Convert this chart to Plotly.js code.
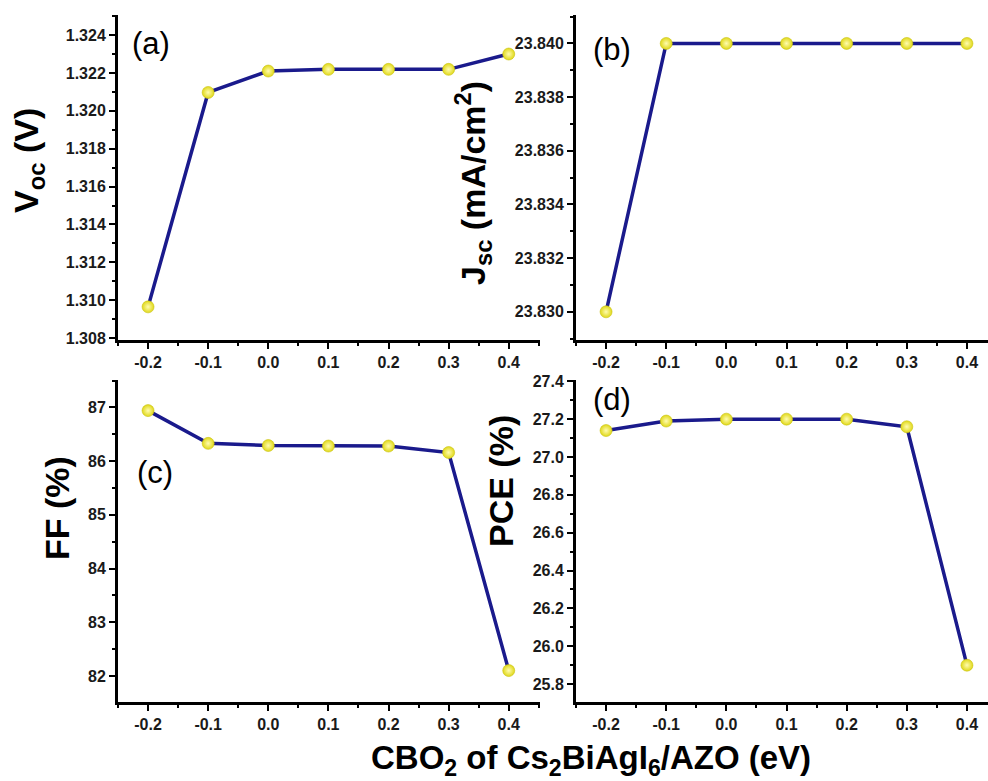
<!DOCTYPE html>
<html>
<head>
<meta charset="utf-8">
<script src="https://cdn.plot.ly/plotly-3.0.1.min.js"></script>
<style>html,body{margin:0;padding:0;background:#fff;}#chart{width:988px;height:781px;}</style>
</head>
<body>
<div id="chart"></div>
<script>
// ---- data ----
const cbo = [-0.2, -0.1, 0.0, 0.1, 0.2, 0.3, 0.4];
const voc = [1.30965, 1.32097, 1.3221, 1.32219, 1.32219, 1.32219, 1.3230];
const jsc = [23.830, 23.840, 23.840, 23.840, 23.840, 23.840, 23.840];
const ff  = [86.94, 86.33, 86.29, 86.28, 86.28, 86.16, 82.10];
const pce = [27.14, 27.19, 27.20, 27.20, 27.20, 27.16, 25.90];
const xTickVals = [-0.2, -0.1, 0.0, 0.1, 0.2, 0.3, 0.4];
const xTickText = ["-0.2", "-0.1", "0.0", "0.1", "0.2", "0.3", "0.4"];
const panelLabels = ["(a)", "(b)", "(c)", "(d)"];
const yTitles = ["V<sub>oc</sub> (V)", "J<sub>sc</sub> (mA/cm<sup>2</sup>)", "FF (%)", "PCE (%)"];
const xTitle = "CBO<sub>2</sub> of Cs<sub>2</sub>BiAgI<sub>6</sub>/AZO (eV)";

// ---- style ----
const W = 988, H = 781;
const FONT = "Arial, 'Liberation Sans', sans-serif";
const lineColor = "#1a1a8c";
const tickFont = {family: FONT, size: 16, color: "#1a1a1a", weight: "bold"};

function mkTrace(y, xa, ya) {
  return {
    x: cbo, y: y, xaxis: xa, yaxis: ya, type: "scatter", mode: "lines+markers",
    line: {color: lineColor, width: 3.5},
    marker: {size: 12, color: "#e0d818", line: {color: "#c9c213", width: 0.6},
             gradient: {type: "radial", color: "#fffcb0"}},
    showlegend: false, hoverinfo: "x+y"
  };
}

function xAxis(domain, range, anchor) {
  return {
    domain: domain, range: range, anchor: anchor,
    tickmode: "array", tickvals: xTickVals, ticktext: xTickText,
    ticks: "outside", ticklen: 6, tickwidth: 2, tickcolor: "#000",
    minor: {tickmode: "linear", tick0: -0.25, dtick: 0.05, ticks: "outside", ticklen: 3, tickwidth: 2, tickcolor: "#000"},
    showline: true, linecolor: "#000", linewidth: 3, mirror: false,
    showgrid: false, zeroline: false, tickfont: tickFont, ticklabelstandoff: 0
  };
}
function yAxis(domain, range, anchor, tick0, dtick, minorDtick, fmt) {
  return {
    domain: domain, range: range, anchor: anchor,
    tickmode: "linear", tick0: tick0, dtick: dtick, tickformat: fmt,
    ticks: "outside", ticklen: 6, tickwidth: 2, tickcolor: "#000",
    minor: {tickmode: "linear", tick0: tick0, dtick: minorDtick, ticks: "outside", ticklen: 3, tickwidth: 2, tickcolor: "#000"},
    showline: true, linecolor: "#000", linewidth: 3, mirror: false,
    showgrid: false, zeroline: false, tickfont: tickFont, ticklabelstandoff: 0
  };
}

const dxL = [118 / W, 540 / W];
const dxR = [576 / W, 1.0];
const dyT = [1 - 340 / H, 1 - 15 / H];
const dyB = [1 - 701.7 / H, 1 - 380 / H];

const data = [
  mkTrace(voc, "x", "y"),
  mkTrace(jsc, "x2", "y2"),
  mkTrace(ff, "x3", "y3"),
  mkTrace(pce, "x4", "y4")
];

function ann(text, px, py, size, bold, angle) {
  return {text: text, x: px / W, y: 1 - py / H, xref: "paper", yref: "paper",
          xanchor: "center", yanchor: "middle", showarrow: false, textangle: angle || 0,
          font: {family: FONT, size: size, color: "#000", weight: bold ? "bold" : "normal"}};
}

const layout = {
  width: W, height: H,
  margin: {l: 0, r: 0, t: 0, b: 0},
  paper_bgcolor: "#fff", plot_bgcolor: "#fff",
  xaxis: xAxis(dxL, [-0.25, 0.452], "y"),
  yaxis: yAxis(dyT, [1.3079, 1.32506], "x", 1.308, 0.002, 0.001, ".3f"),
  xaxis2: xAxis(dxR, [-0.25, 0.435], "y2"),
  yaxis2: yAxis(dyT, [23.82895, 23.84106], "x2", 23.830, 0.002, 0.001, ".3f"),
  xaxis3: xAxis(dxL, [-0.25, 0.452], "y3"),
  yaxis3: yAxis(dyB, [81.52, 87.51], "x3", 82, 1, 0.5, ".0f"),
  xaxis4: xAxis(dxR, [-0.25, 0.435], "y4"),
  yaxis4: yAxis(dyB, [25.707, 27.407], "x4", 25.8, 0.2, 0.1, ".1f"),
  annotations: [
    ann(panelLabels[0], 151, 43, 31, false),
    ann(panelLabels[1], 612, 50, 31, false),
    ann(panelLabels[2], 155, 472, 31, false),
    ann(panelLabels[3], 612, 399, 31, false),
    ann(yTitles[0], 28, 161, 34, true, -90),
    ann(yTitles[1], 473, 183, 34, true, -90),
    ann(yTitles[2], 57, 508, 34, true, -90),
    ann(yTitles[3], 501, 481, 34, true, -90),
    ann(xTitle, 591, 760, 33, true, 0)
  ]
};

Plotly.newPlot("chart", data, layout, {displayModeBar: false, staticPlot: true});
</script>
</body>
</html>
